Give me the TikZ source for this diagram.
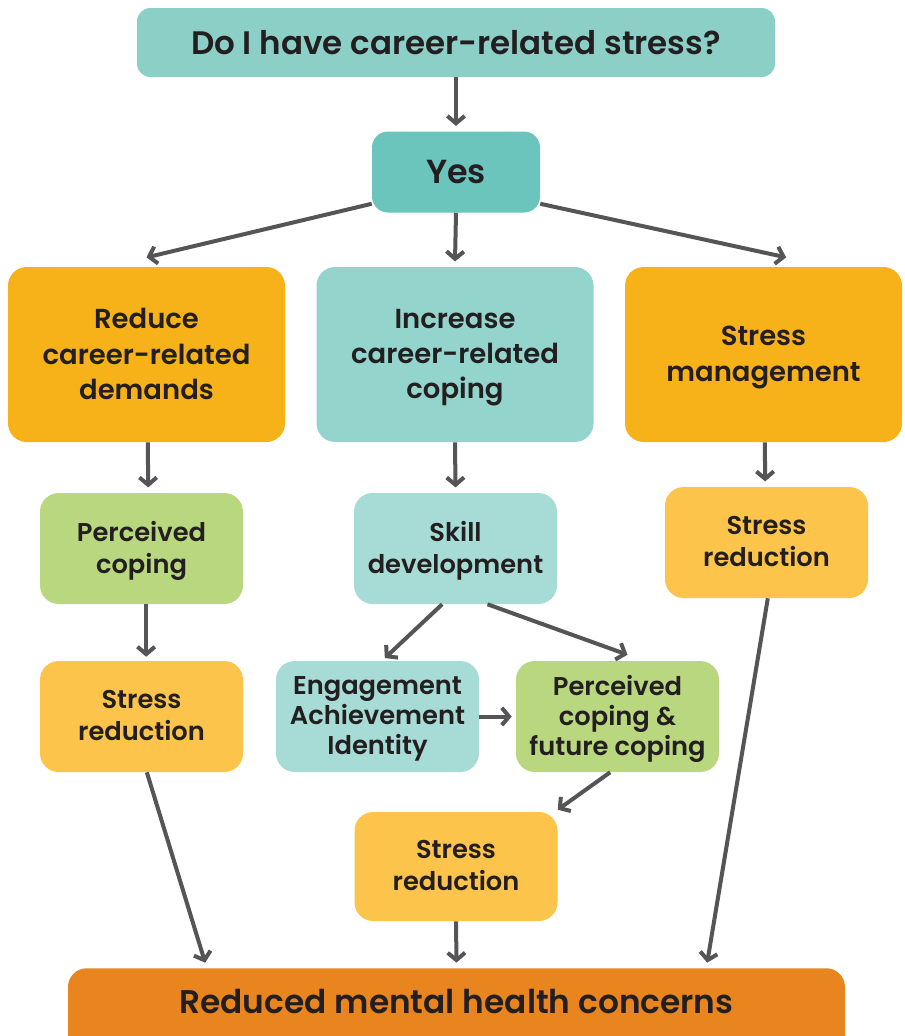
\documentclass[tikz,border=0pt]{standalone}
\usepackage{fontspec}
\setmainfont{Poppins}[BoldFont={Poppins SemiBold}]
\usetikzlibrary{arrows.meta}

\definecolor{ink}{HTML}{231F20}
\definecolor{arrowgray}{HTML}{555558}
\definecolor{tealq}{HTML}{8CCFC7}
\definecolor{tealyes}{HTML}{6CC5BC}
\definecolor{tealmid}{HTML}{93D4CC}
\definecolor{teallight}{HTML}{A7DBD5}
\definecolor{orangebig}{HTML}{F8B219}
\definecolor{orangelight}{HTML}{FDC44B}
\definecolor{greenbox}{HTML}{B9D77F}
\definecolor{orangeend}{HTML}{E8851F}

\tikzset{
  anybox/.style={rounded corners=14pt, align=center, text=ink, inner sep=0pt},
  manyline/.style={execute at begin node=\strut, text depth=1pt},
  bigbox/.style={anybox, manyline, minimum width=277*0.75pt, minimum height=175*0.75pt,
    font=\fontsize{20.6}{26.5}\selectfont\bfseries},
  smallbox/.style={anybox, manyline, minimum width=203*0.75pt, minimum height=111*0.75pt,
    font=\fontsize{19.3}{24}\selectfont\bfseries},
  arr/.style={draw=arrowgray, line width=3pt, -{Straight Barb[length=5.5pt,width=13pt]}}
}

\begin{document}
\begin{tikzpicture}[x=0.75pt, y=-0.75pt]

\useasboundingbox (0,0) rectangle (904,1036);

% question and answer
\node[anybox, fill=tealq, rounded corners=10pt, minimum width=638*0.75pt, minimum height=69*0.75pt,
  font=\fontsize{24.4}{28}\selectfont\bfseries] (question) at (456,42.5) {Do I have career-related stress?};
\node[anybox, fill=tealyes, rounded corners=12pt, minimum width=168*0.75pt, minimum height=81*0.75pt,
  font=\fontsize{25}{30}\selectfont\bfseries] (yes) at (456,172) {Yes};

% three routes
\node[bigbox, fill=orangebig] (demands) at (146.5,354.5) {Reduce\\career-related\\demands};
\node[bigbox, fill=tealmid] (coping) at (455,354.5) {Increase\\career-related\\coping};
\node[bigbox, fill=orangebig] (management) at (763.5,354.5) {Stress\\management};

% second row
\node[smallbox, fill=greenbox] (perceived) at (141.5,548.5) {Perceived\\coping};
\node[smallbox, fill=teallight] (skill) at (455.5,548.5) {Skill\\development};
\node[smallbox, fill=orangelight] (reductionR) at (766.5,542.5) {Stress\\reduction};

% third row
\node[smallbox, fill=orangelight] (reductionL) at (141.5,716.5) {Stress\\reduction};
\node[smallbox, fill=teallight, font=\fontsize{19.3}{22.5}\selectfont\bfseries] (engagement) at (377.5,716.5) {Engagement\\Achievement\\Identity};
\node[smallbox, fill=greenbox, font=\fontsize{19.3}{22.5}\selectfont\bfseries] (future) at (617.5,716.5) {Perceived\\coping \&\\future coping};

\node[smallbox, fill=orangelight, minimum height=109*0.75pt] (reductionM) at (456,866.5) {Stress\\reduction};

% outcome, runs off the page
\node[anybox, fill=orangeend, anchor=north, minimum width=777*0.75pt,
  text height=34pt, text depth=60pt,
  font=\fontsize{24.6}{28}\selectfont\bfseries] (concerns) at (456.5,968) {Reduced mental health concerns};

% arrows
\draw[arr] (question.south) -- ([yshift=4pt]yes.north);
\draw[arr] ([yshift=6.75pt]yes.south west) -- ([yshift=7pt]demands.north);
\draw[arr] (yes.south) -- ([yshift=4pt]coping.north);
\draw[arr] ([yshift=6.75pt]yes.south east) -- ([shift={(17pt,7pt)}]management.north);

\draw[arr] ([xshift=1pt]demands.south) -- ([xshift=5pt,yshift=4pt]perceived.north);
\draw[arr] (coping.south) -- ([yshift=4pt]skill.north);
\draw[arr] ([xshift=1pt]management.south) -- ([xshift=-1pt,yshift=4pt]reductionR.north);

\draw[arr] ([xshift=3.5pt]perceived.south) -- ([xshift=3.5pt,yshift=3pt]reductionL.north);
\draw[arr] ([xshift=-10pt]skill.south) -- ([xshift=5.5pt,yshift=2pt]engagement.north);
\draw[arr] ([xshift=24pt]skill.south) -- ([shift={(7.5pt,4.5pt)}]future.north);
\draw[arr] (engagement.east) -- ([xshift=-3pt]future.west);

\draw[arr] ([xshift=-5.5pt]future.south) -- ([yshift=1.5pt]reductionM.north east);
\draw[arr] ([xshift=4pt]reductionL.south) -- ([shift={(-188.5pt,4pt)}]concerns.north);
\draw[arr] (reductionM.south) -- ([yshift=4pt]concerns.north);
\draw[arr] ([xshift=1pt]reductionR.south) -- ([shift={(188pt,4pt)}]concerns.north);

\end{tikzpicture}
\end{document}
